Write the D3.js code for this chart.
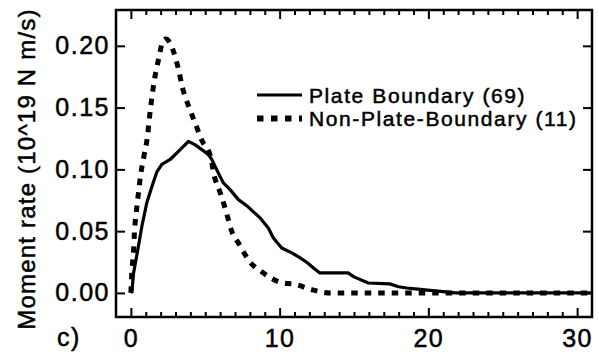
<!DOCTYPE html>
<html>
<head>
<meta charset="utf-8">
<script src="https://cdn.jsdelivr.net/npm/d3@7"></script>
<style>
  html, body { margin: 0; padding: 0; background: #fff; }
  svg { display: block; }
  text { font-family: "Liberation Sans", Arial, Helvetica, sans-serif; fill: #000; stroke: #000; stroke-width: 0.5px; }
</style>
</head>
<body>
<svg id="chart" width="599" height="355"></svg>
<script>
// ---- data ----
const plateX = [0, 0.07, 0.18, 0.51, 0.74, 1.07, 1.41, 1.75, 2.08, 2.64, 3.2, 3.87, 4.3, 4.77, 5.21, 5.44, 5.8, 6.22, 6.67, 7.23, 7.79, 8.2, 8.69, 9.24, 9.58, 10.14, 10.82, 11.3, 11.82, 12.3, 12.7, 14.6, 15.0, 15.96, 17.4, 18.0, 18.54, 19.3, 20.1, 21.0, 21.8, 31];
const plateY = [0, 0.001, 0.016, 0.038, 0.054, 0.073, 0.086, 0.098, 0.104, 0.108, 0.1146, 0.1227, 0.120, 0.116, 0.112, 0.108, 0.099, 0.089, 0.0836, 0.0755, 0.0706, 0.066, 0.0607, 0.0526, 0.0445, 0.0364, 0.0324, 0.029, 0.0248, 0.020, 0.0162, 0.0162, 0.013, 0.008, 0.0073, 0.005, 0.004, 0.003, 0.002, 0.001, 0.0, 0.0];

const nonPlateX = [0, 0.07, 0.18, 0.24, 0.36, 0.51, 0.67, 0.9, 1.12, 1.25, 1.41, 1.59, 1.86, 2.15, 2.35, 2.82, 3.2, 3.47, 3.87, 4.32, 4.77, 5.35, 5.6, 6.0, 6.4, 6.75, 7.3, 7.97, 8.84, 10.0, 11.1, 12.2, 13.4, 31];
const nonPlateY = [0, 0.0175, 0.034, 0.049, 0.065, 0.081, 0.0965, 0.112, 0.127, 0.142, 0.158, 0.173, 0.189, 0.2036, 0.2055, 0.197, 0.181, 0.166, 0.1515, 0.1375, 0.1235, 0.1105, 0.095, 0.0814, 0.066, 0.051, 0.039, 0.0256, 0.0167, 0.0088, 0.0067, 0.0025, 0, 0];

const seriesNames = ["Plate Boundary (69)", "Non-Plate-Boundary (11)"];
const xMajorTicks = [0, 10, 20, 30];
const xMinorTicks = d3.range(0, 31).filter(d => d % 10 !== 0);
const yTicks = [0, 0.05, 0.10, 0.15, 0.20];
const yTitle = "Moment rate (10^19 N m/s)";
const panelLabel = "c)";

// ---- layout ----
const svg = d3.select("#chart");
const L = 116, R = 592, T = 10, B = 317;
const x = d3.scaleLinear().domain([-1, 31]).range([L, R]);
const y = d3.scaleLinear().domain([-0.0195, 0.229]).range([B, T]);

svg.append("defs").append("clipPath").attr("id", "clip")
  .append("rect").attr("x", L).attr("y", T).attr("width", R - L).attr("height", B - T);

const tickFont = 25, tickLS = 1.5;

function styleAxis(g) {
  g.select(".domain").remove();
  g.selectAll(".tick line").attr("stroke", "#000").attr("stroke-width", 2);
  g.selectAll("text").attr("font-size", tickFont).attr("letter-spacing", tickLS)
    .style("font-family", '"Liberation Sans", Arial, sans-serif')
    .attr("fill", "#000").attr("stroke", "#000").attr("stroke-width", 0.5);
}

// bottom axis
svg.append("g").attr("transform", `translate(0,${B})`)
  .call(d3.axisBottom(x).tickValues(xMajorTicks).tickSize(-9).tickPadding(12).tickFormat(d3.format("d")))
  .call(styleAxis);
svg.append("g").attr("transform", `translate(0,${B})`)
  .call(d3.axisBottom(x).tickValues(xMinorTicks).tickSize(-5).tickFormat(""))
  .call(styleAxis);
// top axis
svg.append("g").attr("transform", `translate(0,${T})`)
  .call(d3.axisTop(x).tickValues(xMajorTicks).tickSize(-9).tickFormat(""))
  .call(styleAxis);
svg.append("g").attr("transform", `translate(0,${T})`)
  .call(d3.axisTop(x).tickValues(xMinorTicks).tickSize(-5).tickFormat(""))
  .call(styleAxis);
// left axis
svg.append("g").attr("transform", `translate(${L},0)`)
  .call(d3.axisLeft(y).tickValues(yTicks).tickSize(-9).tickPadding(6).tickFormat(d3.format(".2f")))
  .call(styleAxis);
// right axis
svg.append("g").attr("transform", `translate(${R},0)`)
  .call(d3.axisRight(y).tickValues(yTicks).tickSize(-9).tickFormat(""))
  .call(styleAxis);

// lines
const plateData = plateX.map((v, i) => [v, plateY[i]]);
const nonPlateData = nonPlateX.map((v, i) => [v, nonPlateY[i]]);

const plotG = svg.append("g").attr("clip-path", "url(#clip)");
plotG.append("path").datum(nonPlateData)
  .attr("d", d3.line().x(d => x(d[0])).y(d => y(d[1])).curve(d3.curveMonotoneX))
  .attr("fill", "none").attr("stroke", "#000").attr("stroke-width", 5)
  .attr("stroke-dasharray", "6.5,7");
plotG.append("path").datum(plateData)
  .attr("d", d3.line().x(d => x(d[0])).y(d => y(d[1])))
  .attr("fill", "none").attr("stroke", "#000").attr("stroke-width", 3.2)
  .attr("stroke-linejoin", "round");

// frame
svg.append("rect").attr("x", L).attr("y", T).attr("width", R - L).attr("height", B - T)
  .attr("fill", "none").attr("stroke", "#000").attr("stroke-width", 2.5);

// legend
const leg = svg.append("g").attr("transform", "translate(257,95)");
leg.append("line").attr("x1", 0).attr("x2", 45).attr("y1", 0).attr("y2", 0)
  .attr("stroke", "#000").attr("stroke-width", 3.2);
leg.append("line").attr("x1", 0).attr("x2", 45).attr("y1", 23.5).attr("y2", 23.5)
  .attr("stroke", "#000").attr("stroke-width", 6).attr("stroke-dasharray", "6.5,7.5");
leg.selectAll("text.lab").data(seriesNames).enter().append("text")
  .attr("class", "lab")
  .attr("x", 52).attr("y", (d, i) => 7.5 + i * 23.5)
  .attr("font-size", 21).attr("letter-spacing", 1.6)
  .text(d => d);

// y title
svg.append("text")
  .attr("transform", "translate(35,169) rotate(-90)")
  .attr("text-anchor", "middle")
  .attr("font-size", 24).attr("letter-spacing", 1.2)
  .text(yTitle);

// panel label
svg.append("text").attr("x", 57).attr("y", 346)
  .attr("font-size", 25).attr("letter-spacing", 1.5)
  .text(panelLabel);
</script>
</body>
</html>
